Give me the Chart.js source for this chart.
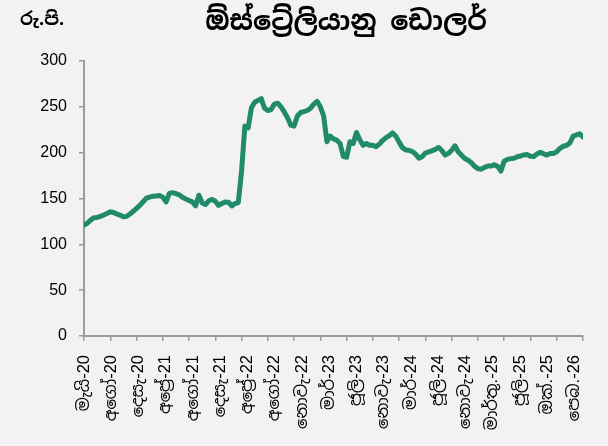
<!DOCTYPE html>
<html>
<head>
<meta charset="utf-8">
<script src="https://cdn.jsdelivr.net/npm/chart.js@4"></script>
<style>
  html, body { margin: 0; padding: 0; background: #f2f2f2; }
  #wrap { width: 608px; height: 446px; }
</style>
</head>
<body>
<div id="wrap"><canvas id="audChart" width="608" height="446"></canvas></div>
<script>
  const chartTitle = "ඕස්ට්‍රේලියානු ඩොලර්";
  const unitLabel = "රු.පි.";

  // LKR per AUD, one reading every 10 trading days
  const dayStep = 10;
  const rateValues = [
    121, 123, 126.4, 129, 129.3, 130.5, 132, 133.6, 135.5, 134.8,
    133, 131.8, 130, 130.5, 133.2, 136, 139.2, 142.5, 146.5, 150.3,
    151.5, 152.5, 152.6, 153.3, 151.5, 146.3, 155.6, 156.4, 155.3, 154,
    151.3, 149.5, 147.8, 146.3, 142, 153.6, 145, 143.4, 147.5, 149,
    147, 142.5, 144.5, 146.3, 146, 142, 144.5, 145.6, 180, 229,
    227, 249, 255, 257, 259, 248.5, 246, 247, 253, 254,
    250, 244.5, 238, 230, 229, 240, 243.8, 244.8, 246, 248.5,
    253, 256, 250, 240, 212, 218, 215, 213.5, 210, 196,
    195, 212, 210, 222, 214, 208, 210, 208, 208, 206.5,
    209.5, 213.5, 216.5, 218.7, 221.5, 218, 211.5, 205.5, 203, 202.6,
    201.3, 198.4, 194, 195.6, 199.6, 200.8, 202, 203.6, 205.7, 202.4,
    197.3, 199.2, 202.7, 207.5, 200.8, 197.3, 193.6, 191.7, 189, 185,
    182.6, 182, 184, 185.5, 185.5, 186.9, 185, 180, 190.8, 192.7,
    193.5, 193.9, 195.5, 196.4, 197.5, 197.9, 196, 195.8, 198.5, 200.5,
    198.7, 197.4, 199, 199.2, 201, 204.8, 207, 208, 210.5, 218,
    219.3, 220.5, 217
  ];

  const tickLabels = [
    "මැයි-20", "අගෝ-20", "දෙසැ-20", "අප්‍රේ-21", "අගෝ-21", "දෙසැ-21",
    "අප්‍රේ-22", "අගෝ-22", "නොවැ-22", "මාර්-23", "ජූලි-23", "නොවැ-23",
    "මාර්-24", "ජූලි-24", "නොවැ-24", "මාර්තු.-25", "ජූලි-25", "ඔක්.-25", "පෙබ.-26"
  ];
  const labelEvery = 83;   // trading days between labels
  const tickEvery = 80;    // trading days between tick marks
  const lastDay = 1520;

  const yMin = 0, yMax = 300, yStep = 50;

  const axisGrey = '#9b9b9b';
  const sinhalaFont = '"Noto Sans Sinhala", "Noto Sans", sans-serif';
  const labelFont = '"Liberation Sans", "Noto Sans Sinhala", sans-serif';
  const numFont = '"Liberation Sans", Arial, sans-serif';

  const points = rateValues.map((v, i) => ({ x: i * dayStep, y: v }));

  const headerText = {
    id: 'headerText',
    afterDraw(chart) {
      const ctx = chart.ctx;
      ctx.save();
      ctx.fillStyle = '#000';
      ctx.textBaseline = 'middle';
      ctx.textAlign = 'center';
      ctx.font = 'bold 27px ' + sinhalaFont;
      ctx.fillText(chartTitle, 346, 23);
      ctx.textAlign = 'left';
      ctx.font = 'bold 18px ' + sinhalaFont;
      ctx.fillText(unitLabel, 20, 20);
      ctx.restore();
    }
  };

  const ctx = document.getElementById('audChart').getContext('2d');
  new Chart(ctx, {
    type: 'line',
    data: {
      datasets: [{
        data: points,
        borderColor: '#208a6a',
        borderWidth: 5,
        pointRadius: 0,
        tension: 0,
        borderJoinStyle: 'round',
        borderCapStyle: 'round'
      }]
    },
    options: {
      responsive: false,
      devicePixelRatio: 1,
      animation: false,
      layout: { padding: { top: 61, right: 25, bottom: 0, left: 0 } },
      plugins: {
        legend: { display: false },
        tooltip: { enabled: false }
      },
      scales: {
        y: {
          min: yMin, max: yMax,
          ticks: { stepSize: yStep, color: '#000', padding: 12, font: { size: 16, family: numFont } },
          grid: { drawOnChartArea: false, drawTicks: true, tickLength: 5, color: axisGrey, lineWidth: 1.5 },
          border: { display: true, color: axisGrey, width: 2 },
          afterFit: s => { s.width = 84; }
        },
        xt: {
          type: 'linear', position: 'bottom', weight: 0,
          min: 0, max: lastDay,
          afterBuildTicks: s => {
            const t = [];
            for (let d = 0; d <= lastDay; d += tickEvery) t.push({ value: d });
            s.ticks = t;
          },
          ticks: { display: false },
          grid: { drawOnChartArea: false, drawTicks: true, tickLength: 5, color: axisGrey, lineWidth: 1.5 },
          border: { display: true, color: axisGrey, width: 2 }
        },
        x: {
          type: 'linear', position: 'bottom', weight: 1,
          min: 0, max: lastDay,
          afterBuildTicks: s => {
            s.ticks = tickLabels.map((_, i) => ({ value: i * labelEvery }));
          },
          ticks: {
            autoSkip: false, minRotation: 90, maxRotation: 90, padding: 6,
            color: '#000', font: { size: 16.5, family: labelFont },
            callback: (v, i) => tickLabels[i]
          },
          grid: { display: false },
          border: { display: false },
          afterFit: s => { s.height = 105; }
        }
      }
    },
    plugins: [headerText]
  });
</script>
</body>
</html>
